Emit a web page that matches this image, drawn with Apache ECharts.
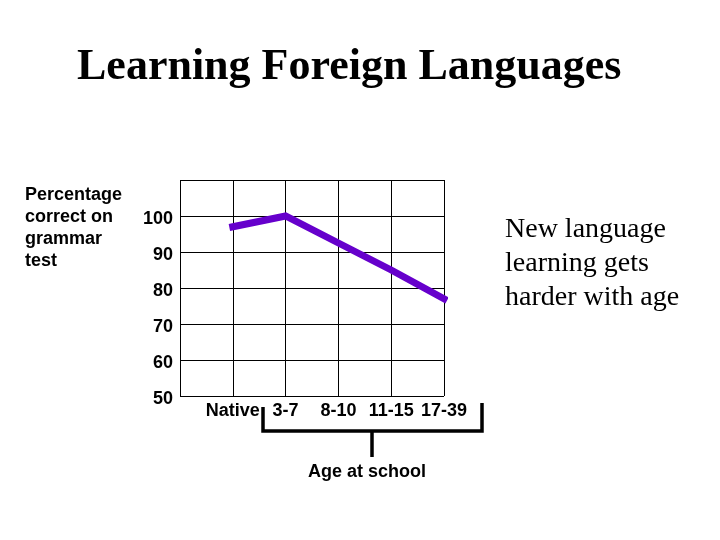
<!DOCTYPE html>
<html>
<head>
<meta charset="utf-8">
<script src="https://cdn.jsdelivr.net/npm/echarts@6/dist/echarts.min.js"></script>
<style>
  html, body { margin: 0; padding: 0; background: #fff; }
  #main { width: 720px; height: 540px; }
</style>
</head>
<body>
<div id="main"></div>
<script>
// first slot is blank so the grid gets an empty column on the left
var ageGroups = ["", "Native", "3-7", "8-10", "11-15", "17-39"];
var scores = [null, 97, 100, 92.5, 85, 77];

var sans = "'Liberation Sans', Arial, sans-serif";
var serif = "'Liberation Serif', 'Times New Roman', serif";

var myChart = echarts.init(document.getElementById('main'));

var option = {
	backgroundColor: '#fff',
	animation: false,
	grid: {
		left: 180,
		right: 276,
		top: 180,
		bottom: 144
	},
	xAxis: {
		type: 'category',
		data: ageGroups,
		boundaryGap: false,
		axisLine: { show: false },
		axisTick: { show: false },
		axisLabel: {
			interval: 0,
			margin: 6,
			color: '#000',
			fontFamily: sans,
			fontWeight: 'bold',
			fontSize: 18
		},
		splitLine: {
			show: true,
			interval: 0,
			lineStyle: { color: '#000', width: 1 }
		}
	},
	yAxis: {
		type: 'value',
		min: 50,
		max: 110,
		interval: 10,
		axisLine: { show: false },
		axisTick: { show: false },
		axisLabel: {
			margin: 7,
			verticalAlign: 'top',
			lineHeight: 7,
			color: '#000',
			fontFamily: sans,
			fontWeight: 'bold',
			fontSize: 18,
			formatter: function(v) {
				return v == 110 ? '' : v;
			}
		},
		splitLine: {
			show: true,
			lineStyle: { color: '#000', width: 1 }
		}
	},
	series: [{
		type: 'line',
		data: scores,
		showSymbol: false,
		symbol: 'none',
		lineStyle: {
			color: '#6600cc',
			width: 7,
			cap: 'square',
			join: 'miter'
		}
	}],
	graphic: [
		{
			type: 'text',
			left: 77,
			top: 46,
			style: {
				text: 'Learning Foreign Languages',
				fontFamily: serif,
				fontWeight: 'bold',
				fontSize: 44,
				fill: '#000'
			}
		},
		{
			type: 'text',
			x: 25,
			y: 184,
			style: {
				text: 'Percentage\ncorrect on\ngrammar\ntest',
				fontFamily: sans,
				fontWeight: 'bold',
				fontSize: 18,
				lineHeight: 22,
				fill: '#000',
				verticalAlign: 'top'
			}
		},
		{
			type: 'text',
			x: 505,
			y: 213,
			style: {
				text: 'New language\nlearning gets\nharder with age',
				fontFamily: serif,
				fontSize: 28,
				lineHeight: 34,
				fill: '#000',
				verticalAlign: 'top'
			}
		},
		// bracket grouping the school ages
		{
			type: 'polyline',
			shape: { points: [[263, 407], [263, 431], [482, 431], [482, 403]] },
			style: { stroke: '#000', lineWidth: 3.5, fill: null }
		},
		{
			type: 'line',
			shape: { x1: 372, y1: 431, x2: 372, y2: 457 },
			style: { stroke: '#000', lineWidth: 3.5 }
		},
		{
			type: 'text',
			x: 367,
			y: 472,
			style: {
				text: 'Age at school',
				fontFamily: sans,
				fontWeight: 'bold',
				fontSize: 18,
				fill: '#000',
				align: 'center',
				verticalAlign: 'middle'
			}
		}
	]
};
myChart.setOption(option);
</script>
</body>
</html>
